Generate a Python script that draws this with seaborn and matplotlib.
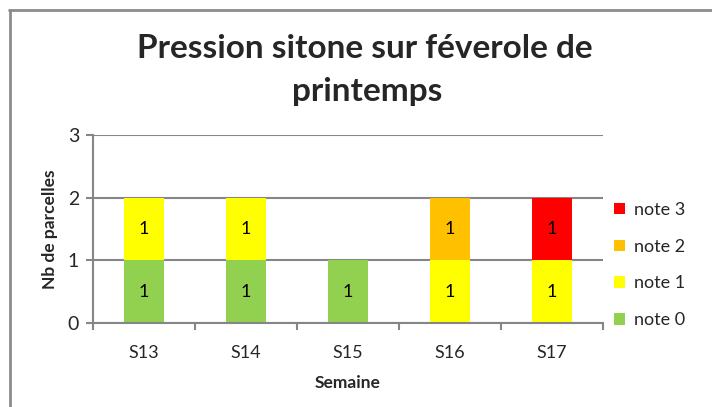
import matplotlib
matplotlib.use("Agg")
import matplotlib.pyplot as plt
from matplotlib.lines import Line2D
from matplotlib.patches import Patch
import numpy as np
import pandas as pd
import seaborn as sns

# ------------------------------------------------------------------ #
# Data
# ------------------------------------------------------------------ #
weeks = ["S13", "S14", "S15", "S16", "S17"]
note_names = ["note 0", "note 1", "note 2", "note 3"]
note_0 = [1, 1, 1, 0, 0]
note_1 = [1, 1, 0, 1, 1]
note_2 = [0, 0, 0, 1, 0]
note_3 = [0, 0, 0, 0, 1]
colors = ["#92d050", "#ffff00", "#ffc000", "#ff0000"]

sns.set_style("white")
plt.rcParams["font.family"] = ["Lato", "DejaVu Sans"]

grid_col = "#868686"

fig = plt.figure(figsize=(7.12, 4.07), dpi=100)
ax = fig.add_axes([93 / 712, 1 - 323 / 407, 510 / 712, 188 / 407])

bottom = np.zeros(len(weeks))
for name, vals, col in zip(note_names, [note_0, note_1, note_2, note_3], colors):
    df = pd.DataFrame({"Semaine": weeks, "n": vals})
    before = len(ax.containers)
    sns.barplot(data=df, x="Semaine", y="n", color=col, width=0.4,
                bottom=bottom, ax=ax, saturation=1, linewidth=0)
    cont = ax.containers[before]
    ax.bar_label(cont, labels=[str(v) if v else "" for v in vals],
                 label_type="center", fontsize=13, color="black")
    bottom = bottom + np.array(vals)

ax.set_ylim(0, 3)
ax.set_yticks([0, 1, 2, 3])
ax.set_xlim(-0.5, len(weeks) - 0.5)
ax.set_axisbelow(True)
ax.yaxis.grid(True, color=grid_col, linewidth=1.5)
ax.xaxis.grid(False)
for s in ["top", "right"]:
    ax.spines[s].set_visible(False)
for s in ["left", "bottom"]:
    ax.spines[s].set_color(grid_col)
    ax.spines[s].set_linewidth(1.5)

# x ticks at category boundaries, labels at centres
ax.set_xticks(np.arange(len(weeks)))
ax.set_xticklabels(weeks, fontsize=13, color="#262626")
ax.tick_params(axis="x", length=0, pad=16)
ax.set_xticks(np.arange(-0.5, len(weeks)), minor=True)
ax.tick_params(axis="x", which="minor", length=5, width=1.5, color=grid_col,
               direction="out", bottom=True)
ax.tick_params(axis="y", length=5, width=1.5, color=grid_col, direction="out",
               left=True, labelsize=14, labelcolor="#262626", pad=5)

ax.set_xlabel("Semaine", fontsize=12.5, fontweight="bold", labelpad=10)
ax.set_ylabel("Nb de parcelles", fontsize=12.5, fontweight="bold", labelpad=7)

fig.text(365 / 712, 1 - 48 / 407, "Pression sitone sur féverole de",
         ha="center", va="center", fontsize=24, fontweight="bold")
fig.text(367 / 712, 1 - 92 / 407, "printemps",
         ha="center", va="center", fontsize=24, fontweight="bold")

handles = [Patch(facecolor=c, edgecolor="none") for c in colors][::-1]
fig.legend(handles, note_names[::-1], loc="center left",
           bbox_to_anchor=(598 / 712, 1 - 265 / 407), frameon=False,
           fontsize=13, handlelength=0.6, handleheight=0.6,
           handletextpad=0.5, labelspacing=1.15)

# outer chart frame
fig.add_artist(Line2D([9 / 712, 1], [1 - 10 / 407, 1 - 10 / 407],
                      color="#8c8c8c", linewidth=2, transform=fig.transFigure))
fig.add_artist(Line2D([10 / 712, 10 / 712], [0, 1 - 10 / 407],
                      color="#8c8c8c", linewidth=2, transform=fig.transFigure))

fig.savefig("out.png", dpi=100)
